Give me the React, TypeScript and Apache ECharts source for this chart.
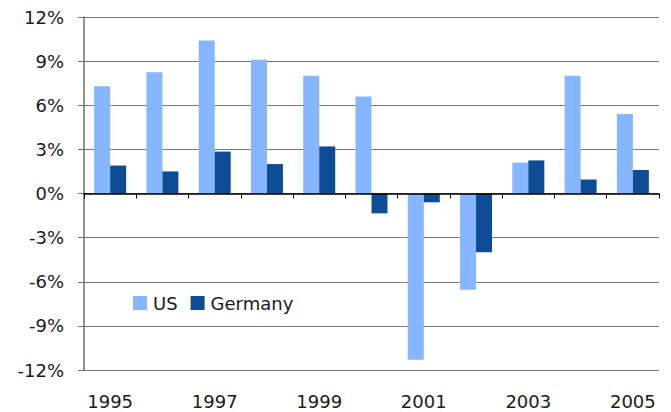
import React, { useEffect, useRef } from "react";
import * as echarts from "echarts";

const years = ["1995", "1996", "1997", "1998", "1999", "2000", "2001", "2002", "2003", "2004", "2005"];
const usValues = [7.3, 8.25, 10.4, 9.1, 8.0, 6.6, -11.3, -6.55, 2.1, 8.0, 5.4];
const germanyValues = [1.9, 1.5, 2.85, 2.0, 3.2, -1.35, -0.6, -4.0, 2.25, 0.95, 1.6];
const seriesNames = ["US", "Germany"];
const colors = ["#86B6FF", "#0E4C96"];

const FONT = "DejaVu Sans";

const GRID_TOP = 17;
const GRID_BOTTOM = 42;
const CHART_H = 412;
const plotH = CHART_H - GRID_TOP - GRID_BOTTOM;

export default function App() {
  const ref = useRef<HTMLDivElement>(null);
  useEffect(() => {
    if (!ref.current) return;
    const chart = echarts.init(ref.current, null, { renderer: "svg" });
    chart.setOption({
      animation: false,
      backgroundColor: "#ffffff",
      grid: [
        { left: 84, right: 12, top: GRID_TOP, bottom: GRID_BOTTOM, containLabel: false },
        { left: 84, right: 12, top: GRID_TOP, height: plotH / 2, containLabel: false },
      ],
      legend: {
        data: seriesNames,
        left: 133,
        top: 294,
        padding: 0,
        itemWidth: 14,
        itemHeight: 14,
        itemGap: 13,
        icon: "rect",
        textStyle: { fontFamily: FONT, fontSize: 18, color: "#1a1a1a", padding: [0, 0, 0, 1] },
      },
      xAxis: [
        {
          type: "category",
          gridIndex: 0,
          data: years,
          position: "bottom",
          axisLine: { show: false, onZero: false },
          axisTick: { show: false },
          splitLine: { show: false },
          axisLabel: {
            interval: 1,
            margin: 22,
            fontFamily: FONT,
            fontSize: 18,
            color: "#1a1a1a",
          },
        },
        {
          type: "category",
          gridIndex: 1,
          data: years,
          position: "bottom",
          z: 5,
          axisLine: { show: true, onZero: false, lineStyle: { color: "#000000", width: 1.5 } },
          axisTick: { show: true, length: 5, lineStyle: { color: "#000000", width: 1 } },
          axisLabel: { show: false },
          splitLine: { show: false },
        },
      ],
      yAxis: [
        {
          type: "value",
          gridIndex: 0,
          min: -12,
          max: 12,
          interval: 3,
          axisLine: { show: true, onZero: false, lineStyle: { color: "#6e6e6e", width: 1.5 } },
          axisTick: { show: true, length: 6, lineStyle: { color: "#6e6e6e" } },
          splitLine: { show: true, lineStyle: { color: "#7a7a7a", width: 1 } },
          axisLabel: {
            formatter: "{value}%",
            margin: 20,
            fontFamily: FONT,
            fontSize: 18,
            color: "#1a1a1a",
          },
        },
        {
          type: "value",
          gridIndex: 1,
          min: 0,
          max: 12,
          show: false,
        },
      ],
      series: [
        {
          name: seriesNames[0],
          type: "bar",
          xAxisIndex: 0,
          yAxisIndex: 0,
          data: usValues,
          barWidth: 16,
          barGap: "0%",
          itemStyle: { color: colors[0] },
          z: 2,
        },
        {
          name: seriesNames[1],
          type: "bar",
          xAxisIndex: 0,
          yAxisIndex: 0,
          data: germanyValues,
          barWidth: 16,
          barGap: "0%",
          itemStyle: { color: colors[1] },
          z: 2,
        },
      ],
    });
    return () => chart.dispose();
  }, []);
  return <div ref={ref} style={{ width: 671, height: 412, position: "absolute", left: 0, top: 0 }} />;
}
